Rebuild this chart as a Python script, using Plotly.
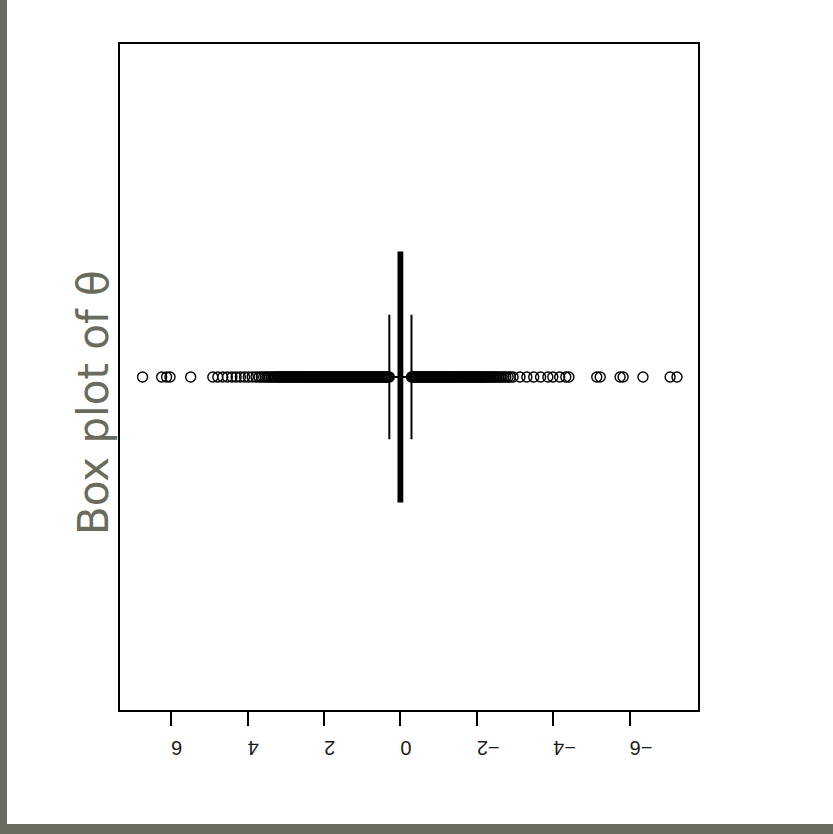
import plotly.graph_objects as go

# Summary statistics of theta (box collapsed around zero, short whiskers)
theta_q1 = -0.05
theta_median = 0.0
theta_q3 = 0.05
theta_lower_whisker = -0.29
theta_upper_whisker = 0.29

# Values beyond the upper whisker
outliers_pos = [
    0.29, 0.31, 0.34, 0.37, 0.39, 0.42, 0.45, 0.48, 0.50, 0.53, 0.56, 0.59,
    0.61, 0.64, 0.67, 0.70, 0.72, 0.75, 0.78, 0.81, 0.83, 0.86, 0.89, 0.92,
    0.94, 0.97, 1.00, 1.03, 1.05, 1.08, 1.11, 1.14, 1.16, 1.19, 1.22, 1.25,
    1.28, 1.30, 1.33, 1.36, 1.39, 1.42, 1.44, 1.47, 1.50, 1.53, 1.56, 1.58,
    1.61, 1.64, 1.67, 1.70, 1.73, 1.75, 1.78, 1.81, 1.84, 1.87, 1.90, 1.92,
    1.95, 1.98, 2.01, 2.04, 2.07, 2.10, 2.12, 2.15, 2.18, 2.21, 2.24, 2.27,
    2.30, 2.33, 2.36, 2.38, 2.41, 2.44, 2.47, 2.50, 2.53, 2.56, 2.59, 2.62,
    2.65, 2.68, 2.71, 2.74, 2.77, 2.80, 2.83, 2.86, 2.89, 2.92, 2.95, 2.98,
    3.01, 3.04, 3.07, 3.10, 3.13, 3.16, 3.19, 3.22, 3.26, 3.30, 3.34, 3.38,
    3.43, 3.48, 3.53, 3.58, 3.64, 3.70,
    3.78, 3.88, 3.98, 4.08, 4.19, 4.30, 4.41, 4.53, 4.65, 4.78, 4.91,
    5.49, 6.03, 6.12, 6.25, 6.75,
]

# Values beyond the lower whisker
outliers_neg = [
    -0.29, -0.31, -0.34, -0.37, -0.39, -0.42, -0.45, -0.48, -0.50, -0.53,
    -0.56, -0.59, -0.61, -0.64, -0.67, -0.70, -0.72, -0.75, -0.78, -0.81,
    -0.84, -0.86, -0.89, -0.92, -0.95, -0.98, -1.00, -1.03, -1.06, -1.09,
    -1.12, -1.14, -1.17, -1.20, -1.23, -1.26, -1.29, -1.31, -1.34, -1.37,
    -1.40, -1.43, -1.46, -1.49, -1.51, -1.54, -1.57, -1.60, -1.63, -1.66,
    -1.69, -1.72, -1.75, -1.78, -1.81, -1.84, -1.87, -1.90, -1.93, -1.96,
    -1.99, -2.02, -2.05, -2.08, -2.11, -2.14, -2.17, -2.20, -2.23, -2.26,
    -2.29, -2.33, -2.36, -2.40, -2.44, -2.48, -2.52, -2.56, -2.61, -2.66,
    -2.71, -2.76, -2.82, -2.88, -2.95,
    -3.13, -3.31, -3.49, -3.67, -3.86, -3.99, -4.17, -4.33, -4.41,
    -5.14, -5.23, -5.75, -5.83, -6.35, -7.06, -7.24,
]

tick_values = [-6, -4, -2, 0, 2, 4, 6]
tick_labels = ["\u22126", "\u22124", "\u22122", "0", "2", "4", "6"]

frame_grey = "#696B5E"

fig = go.Figure()

fig.add_trace(go.Box(
    orientation="h",
    y=[0],
    q1=[theta_q1],
    median=[theta_median],
    q3=[theta_q3],
    lowerfence=[theta_lower_whisker],
    upperfence=[theta_upper_whisker],
    width=0.748,
    whiskerwidth=0.5,
    fillcolor="black",
    line=dict(color="black", width=2),
    boxpoints=False,
    hoverinfo="skip",
    showlegend=False,
))

outliers = outliers_pos + outliers_neg
fig.add_trace(go.Scatter(
    x=outliers,
    y=[0] * len(outliers),
    mode="markers",
    marker=dict(symbol="circle-open", size=10, color="black",
                line=dict(width=1.4, color="black")),
    showlegend=False,
    hoverinfo="skip",
))

plot_l, plot_r, plot_t, plot_b = 120, 698, 44, 710
W, H = 833, 834
pw, ph = plot_r - plot_l, plot_b - plot_t


def px_x(px):
    return (px - plot_l) / pw


def px_y(py):
    return (plot_b - py) / ph


fig.update_layout(
    width=W, height=H,
    margin=dict(l=plot_l, r=W - plot_r, t=plot_t, b=H - plot_b, pad=0),
    paper_bgcolor="white",
    plot_bgcolor="white",
    font=dict(family="Liberation Sans, Arial, sans-serif", color="black"),
    xaxis=dict(
        range=[7.34, -7.79],
        tickmode="array",
        tickvals=tick_values,
        ticktext=tick_labels,
        tickangle=180,
        ticks="outside",
        ticklen=14,
        tickwidth=1.5,
        tickcolor="black",
        ticklabelstandoff=11,
        tickfont=dict(size=20, color="#1a1a1a"),
        showgrid=False,
        zeroline=False,
        showline=True,
        linecolor="black",
        linewidth=2,
        mirror=True,
    ),
    yaxis=dict(
        range=[-1, 1],
        showticklabels=False,
        ticks="",
        showgrid=False,
        zeroline=False,
        showline=True,
        linecolor="black",
        linewidth=2,
        mirror=True,
    ),
    annotations=[dict(
        text="Box plot of \u03b8",
        x=px_x(93), y=px_y(403),
        xref="paper", yref="paper",
        textangle=-90,
        showarrow=False,
        font=dict(family="DejaVu Sans, sans-serif", size=42, color=frame_grey),
        xanchor="center", yanchor="middle",
    )],
    shapes=[
        dict(type="rect", xref="paper", yref="paper",
             x0=px_x(0), x1=px_x(7), y0=px_y(H), y1=px_y(0),
             fillcolor=frame_grey, line=dict(width=0), layer="above"),
        dict(type="rect", xref="paper", yref="paper",
             x0=px_x(0), x1=px_x(W), y0=px_y(H), y1=px_y(824),
             fillcolor=frame_grey, line=dict(width=0), layer="above"),
    ],
)

fig.write_html("out.html")
